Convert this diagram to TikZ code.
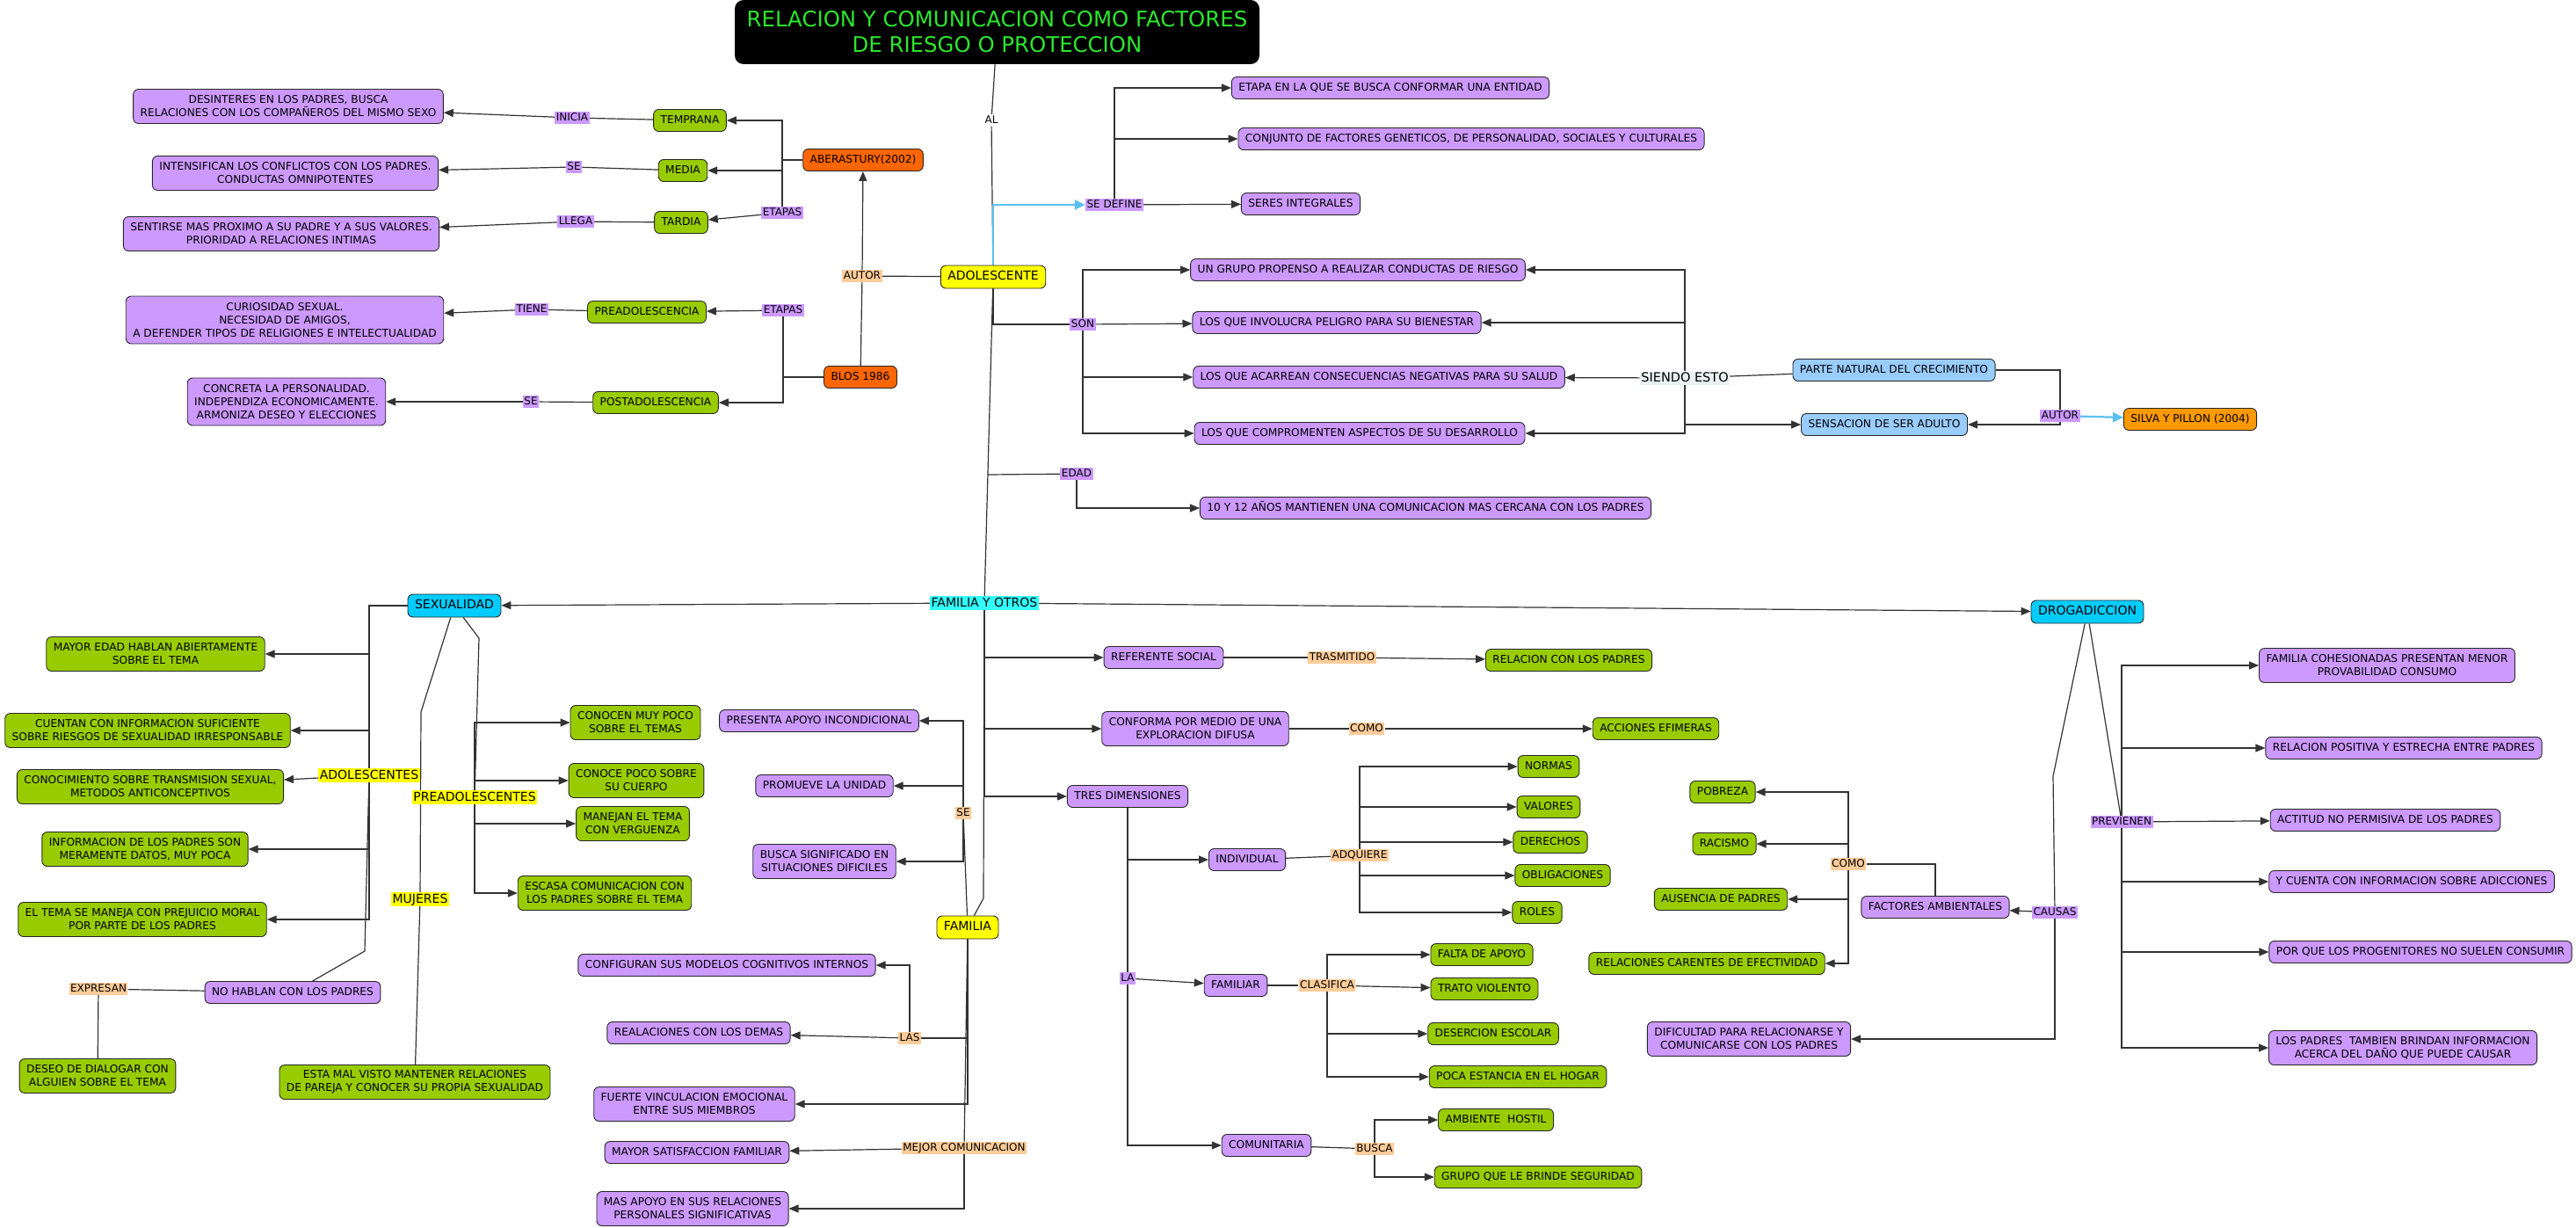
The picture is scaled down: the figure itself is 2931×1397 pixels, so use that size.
\documentclass[tikz,border=0pt]{standalone}
\usepackage{fontspec}
\setmainfont{DejaVu Sans}
\usepackage{tikz}
\usetikzlibrary{arrows.meta}
\usetikzlibrary{backgrounds}
\definecolor{clila}{HTML}{CC99FF}
\definecolor{cverde}{HTML}{99CC00}
\definecolor{camarillo}{HTML}{FFFF00}
\definecolor{ccian}{HTML}{00CCFF}
\definecolor{ccianclaro}{HTML}{33FFFF}
\definecolor{cnaranja}{HTML}{FF6600}
\definecolor{cnaranjaclaro}{HTML}{FF9900}
\definecolor{cceleste}{HTML}{99CCFF}
\definecolor{cdurazno}{HTML}{FFCC99}
\definecolor{csiendo}{HTML}{EAF1F1}
\definecolor{cflecha}{HTML}{5BC0F0}
\definecolor{cverdetitulo}{RGB}{45,230,45}
\tikzset{
    >={Triangle[length=11pt,width=9pt]},
    caja/.style={draw=black!85, line width=0.9pt, rounded corners=6pt, inner xsep=8pt,
        inner ysep=2pt, align=center, font=\fontsize{12.2}{15}\selectfont},
    una/.style={text height=9pt, text depth=2.5pt, minimum height=25pt},
    dos/.style={minimum height=39pt},
    tres/.style={minimum height=54pt},
    lila/.style={caja, fill=clila},
    verde/.style={caja, fill=cverde},
    naranja/.style={caja, una, fill=cnaranja},
    celeste/.style={caja, una, fill=cceleste},
    principal/.style={caja, una, font=\fontsize{14}{16}\selectfont, text height=10.5pt,
        text depth=3pt, minimum height=26pt},
    titulo/.style={fill=black, rounded corners=10pt, minimum width=597pt, minimum height=73pt,
        text=cverdetitulo, align=center, font=\fontsize{24.4}{29}\selectfont},
    enlace/.style={fill=clila, inner xsep=1.5pt, inner ysep=1.5pt, text height=9pt,
        text depth=1.5pt, font=\fontsize{12}{14}\selectfont},
    durazno/.style={enlace, fill=cdurazno},
    enlacegrande/.style={enlace, fill=camarillo, font=\fontsize{14}{16}\selectfont,
        text height=10.5pt, text depth=2pt},
    conector/.style={draw=black!80, line width=1.2pt},
    azul/.style={draw=cflecha, line width=2.2pt, -{Triangle[length=12pt,width=11pt]}},
}
\begin{document}
\begin{tikzpicture}[x=1pt, y=-1pt]
\useasboundingbox (0,0) rectangle (2931,1397);
% titulo y adolescente
\node[titulo] (titulo) at (1134.5,36.5) {RELACION Y COMUNICACION COMO FACTORES\\DE RIESGO O PROTECCION};
\node[enlace, fill=white] (al) at (1128,137) {AL};
\node[principal, fill=camarillo] (adolescente) at (1130,315) {ADOLESCENTE};
% etapas segun autores
\node[naranja] (aberastury) at (982,182) {ABERASTURY(2002)};
\node[naranja] (blos) at (979,429) {BLOS 1986};
\node[durazno] (autorA) at (981,314) {AUTOR};
\node[enlace] (etapasA) at (890,242) {ETAPAS};
\node[enlace] (etapasB) at (891,353) {ETAPAS};
\node[verde,una] (temprana) at (785,137) {TEMPRANA};
\node[verde,una] (media) at (777,194) {MEDIA};
\node[verde,una] (tardia) at (775,253) {TARDIA};
\node[verde,una] (preadolescencia) at (736,355) {PREADOLESCENCIA};
\node[verde,una] (postadolescencia) at (746,458) {POSTADOLESCENCIA};
\node[enlace] (inicia) at (651,134) {INICIA};
\node[enlace] (seA) at (653,190) {SE};
\node[enlace] (llega) at (655,252) {LLEGA};
\node[enlace] (tiene) at (605,352) {TIENE};
\node[enlace] (seB) at (604,457) {SE};
\node[lila,dos] (desinteres) at (328,121) {DESINTERES EN LOS PADRES, BUSCA\\RELACIONES CON LOS COMPAÑEROS DEL MISMO SEXO};
\node[lila,dos] (intensifican) at (336,197) {INTENSIFICAN LOS CONFLICTOS CON LOS PADRES.\\CONDUCTAS OMNIPOTENTES};
\node[lila,dos] (sentirse) at (320,266) {SENTIRSE MAS PROXIMO A SU PADRE Y A SUS VALORES.\\PRIORIDAD A RELACIONES INTIMAS};
\node[lila,tres] (curiosidad) at (324,364) {CURIOSIDAD SEXUAL.\\NECESIDAD DE AMIGOS,\\A DEFENDER TIPOS DE RELIGIONES E INTELECTUALIDAD};
\node[lila,tres] (concreta) at (326,457) {CONCRETA LA PERSONALIDAD.\\INDEPENDIZA ECONOMICAMENTE.\\ARMONIZA DESEO Y ELECCIONES};
% definicion
\node[enlace] (sedefine) at (1268,233) {SE DEFINE};
\node[lila,una] (etapa) at (1582,100) {ETAPA EN LA QUE SE BUSCA CONFORMAR UNA ENTIDAD};
\node[lila,una] (conjunto) at (1674,158) {CONJUNTO DE FACTORES GENETICOS, DE PERSONALIDAD, SOCIALES Y CULTURALES};
\node[lila,una] (seres) at (1480,232) {SERES INTEGRALES};
\node[enlace] (son) at (1232,369) {SON};
\node[lila,una] (grupo) at (1545,307) {UN GRUPO PROPENSO A REALIZAR CONDUCTAS DE RIESGO};
\node[lila,una] (involucra) at (1521,367) {LOS QUE INVOLUCRA PELIGRO PARA SU BIENESTAR};
\node[lila,una] (acarrean) at (1569,429) {LOS QUE ACARREAN CONSECUENCIAS NEGATIVAS PARA SU SALUD};
\node[lila,una] (comprometen) at (1547,493) {LOS QUE COMPROMENTEN ASPECTOS DE SU DESARROLLO};
\node[enlace] (edad) at (1225,539) {EDAD};
\node[lila,una] (edad10) at (1622,578) {10 Y 12 AÑOS MANTIENEN UNA COMUNICACION MAS CERCANA CON LOS PADRES};
\node[enlace, fill=csiendo, font=\fontsize{14.5}{17}\selectfont, text height=10.5pt] (siendo) at (1917,430) {SIENDO ESTO};
\node[celeste] (parte) at (2155,421) {PARTE NATURAL DEL CRECIMIENTO};
\node[celeste] (sensacion) at (2144,483) {SENSACION DE SER ADULTO};
\node[enlace] (autorB) at (2344,473) {AUTOR};
\node[caja, una, fill=cnaranjaclaro] (silva) at (2492,477) {SILVA Y PILLON (2004)};
% familia y otros
\node[enlacegrande, fill=ccianclaro] (familiayotros) at (1120,686) {FAMILIA Y OTROS};
\node[principal, fill=ccian] (sexualidad) at (517,689) {SEXUALIDAD};
\node[principal, fill=ccian] (drogadiccion) at (2375,696) {DROGADICCION};
% sexualidad
\node[verde,dos] (mayor) at (177,744) {MAYOR EDAD HABLAN ABIERTAMENTE\\SOBRE EL TEMA};
\node[verde,dos] (cuentan) at (168,831) {CUENTAN CON INFORMACION SUFICIENTE\\SOBRE RIESGOS DE SEXUALIDAD IRRESPONSABLE};
\node[verde,dos] (conocimiento) at (171,895) {CONOCIMIENTO SOBRE TRANSMISION SEXUAL,\\METODOS ANTICONCEPTIVOS};
\node[verde,dos] (informacion) at (165,966) {INFORMACION DE LOS PADRES SON\\MERAMENTE DATOS, MUY POCA};
\node[verde,dos] (eltema) at (162,1046) {EL TEMA SE MANEJA CON PREJUICIO MORAL\\POR PARTE DE LOS PADRES};
\node[enlacegrande] (adolescentes) at (420,882) {ADOLESCENTES};
\node[enlacegrande] (preadolescentes) at (540,907) {PREADOLESCENTES};
\node[enlacegrande] (mujeres) at (478,1023) {MUJERES};
\node[lila,una] (nohablan) at (333,1129) {NO HABLAN CON LOS PADRES};
\node[durazno] (expresan) at (112,1125) {EXPRESAN};
\node[verde,dos] (deseo) at (111,1224) {DESEO DE DIALOGAR CON\\ALGUIEN SOBRE EL TEMA};
\node[verde,dos] (estamal) at (472,1231) {ESTA MAL VISTO MANTENER RELACIONES\\DE PAREJA Y CONOCER SU PROPIA SEXUALIDAD};
\node[verde,dos] (conocen) at (723,822) {CONOCEN MUY POCO\\SOBRE EL TEMAS};
\node[verde,dos] (conocepoco) at (724,888) {CONOCE POCO SOBRE\\SU CUERPO};
\node[verde,dos] (manejan) at (720,937) {MANEJAN EL TEMA\\CON VERGUENZA};
\node[verde,dos] (escasa) at (688,1016) {ESCASA COMUNICACION CON\\LOS PADRES SOBRE EL TEMA};
\coordinate (quiebrepre) at (545,726);
\coordinate (quiebremuj) at (479,810);
\coordinate (quiebrenohablan) at (415,1082);
% familia
\node[principal, fill=camarillo] (familia) at (1101,1055) {FAMILIA};
\node[durazno] (seC) at (1096,925) {SE};
\node[lila,una] (presenta) at (932,820) {PRESENTA APOYO INCONDICIONAL};
\node[lila,una] (promueve) at (938,894) {PROMUEVE LA UNIDAD};
\node[lila,dos] (buscasig) at (938,980) {BUSCA SIGNIFICADO EN\\SITUACIONES DIFICILES};
\node[lila,una] (configuran) at (827,1098) {CONFIGURAN SUS MODELOS COGNITIVOS INTERNOS};
\node[lila,una] (realaciones) at (795,1175) {REALACIONES CON LOS DEMAS};
\node[durazno] (las) at (1035,1181) {LAS};
\node[lila,dos] (fuerte) at (790,1256) {FUERTE VINCULACION EMOCIONAL\\ENTRE SUS MIEMBROS};
\node[lila,una] (mayorsat) at (793,1311) {MAYOR SATISFACCION FAMILIAR};
\node[durazno] (mejorcom) at (1097,1306) {MEJOR COMUNICACION};
\node[lila,dos] (masapoyo) at (788,1375) {MAS APOYO EN SUS RELACIONES\\PERSONALES SIGNIFICATIVAS};
\coordinate (troncoedad) at (1124,540);
\coordinate (quiebrefam) at (1119,1022);
% otros
\node[lila,una] (referente) at (1324,748) {REFERENTE SOCIAL};
\node[durazno] (trasmitido) at (1527,748) {TRASMITIDO};
\node[verde,una] (relacionpadres) at (1785,751) {RELACION CON LOS PADRES};
\node[lila,dos] (conforma) at (1360,829) {CONFORMA POR MEDIO DE UNA\\EXPLORACION DIFUSA};
\node[durazno] (comoA) at (1555,829) {COMO};
\node[verde,una] (acciones) at (1884,829) {ACCIONES EFIMERAS};
\node[lila,una] (tres) at (1283,906) {TRES DIMENSIONES};
\node[enlace] (la) at (1283,1113) {LA};
\node[lila,una] (individual) at (1419,978) {INDIVIDUAL};
\node[durazno] (adquiere) at (1547,973) {ADQUIERE};
\node[verde,una] (normas) at (1762,872) {NORMAS};
\node[verde,una] (valores) at (1762,918) {VALORES};
\node[verde,una] (derechos) at (1764,958) {DERECHOS};
\node[verde,una] (obligaciones) at (1778,996) {OBLIGACIONES};
\node[verde,una] (roles) at (1749,1038) {ROLES};
\node[lila,una] (familiar) at (1406,1121) {FAMILIAR};
\node[durazno] (clasifica) at (1510,1121) {CLASIFICA};
\node[verde,una] (falta) at (1686,1086) {FALTA DE APOYO};
\node[verde,una] (trato) at (1689,1125) {TRATO VIOLENTO};
\node[verde,una] (desercion) at (1699,1176) {DESERCION ESCOLAR};
\node[verde,una] (poca) at (1727,1225) {POCA ESTANCIA EN EL HOGAR};
\node[lila,una] (comunitaria) at (1441,1303) {COMUNITARIA};
\node[durazno] (busca) at (1564,1307) {BUSCA};
\node[verde,una] (ambiente) at (1702,1274) {AMBIENTE~ HOSTIL};
\node[verde,una] (gruposeg) at (1750,1339) {GRUPO QUE LE BRINDE SEGURIDAD};
% drogadiccion
\node[verde,una] (pobreza) at (1960,901) {POBREZA};
\node[verde,una] (racismo) at (1962,960) {RACISMO};
\node[verde,una] (ausencia) at (1958,1023) {AUSENCIA DE PADRES};
\node[verde,una] (carentes) at (1942,1096) {RELACIONES CARENTES DE EFECTIVIDAD};
\node[durazno] (comoB) at (2103,983) {COMO};
\node[lila,una] (factores) at (2202,1032) {FACTORES AMBIENTALES};
\node[enlace] (causas) at (2338,1038) {CAUSAS};
\node[lila,dos] (dificultad) at (1990,1182) {DIFICULTAD PARA RELACIONARSE Y\\COMUNICARSE CON LOS PADRES};
\node[enlace] (previenen) at (2414,935) {PREVIENEN};
\node[lila,dos] (cohesionadas) at (2716,757) {FAMILIA COHESIONADAS PRESENTAN MENOR\\PROVABILIDAD CONSUMO};
\node[lila,una] (positiva) at (2735,851) {RELACION POSITIVA Y ESTRECHA ENTRE PADRES};
\node[lila,una] (actitud) at (2714,933) {ACTITUD NO PERMISIVA DE LOS PADRES};
\node[lila,una] (ycuenta) at (2744,1003) {Y CUENTA CON INFORMACION SOBRE ADICCIONES};
\node[lila,una] (porque) at (2754,1083) {POR QUE LOS PROGENITORES NO SUELEN CONSUMIR};
\node[lila,dos] (tambien) at (2734,1192) {LOS PADRES~ TAMBIEN BRINDAN INFORMACION\\ACERCA DEL DAÑO QUE PUEDE CAUSAR};
\coordinate (quiebrecausas) at (2336,883);

\begin{scope}[on background layer]
% parte superior
\draw[conector] (titulo) -- (al);
\draw[conector] (al) -- (adolescente);
\draw[azul] (adolescente.north) |- (sedefine);
\draw[conector,->] (sedefine) |- (etapa);
\draw[conector,->] (sedefine) |- (conjunto);
\draw[conector,->] (sedefine) -- (seres);
\draw[conector] (adolescente) |- (son);
\draw[conector,->] (son) |- (grupo);
\draw[conector,->] (son) -- (involucra);
\draw[conector,->] (son) |- (acarrean);
\draw[conector,->] (son) |- (comprometen);
\draw[conector] (adolescente) -- (familiayotros);
\draw[conector] (troncoedad) -- (edad);
\draw[conector,->] (edad) |- (edad10);
\draw[conector] (parte) -- (siendo);
\draw[conector,->] (siendo) -- (acarrean);
\draw[conector,->] (siendo) |- (grupo);
\draw[conector,->] (siendo) |- (involucra);
\draw[conector,->] (siendo) |- (comprometen);
\draw[conector,->] (siendo) |- (sensacion);
\draw[conector] (parte) -| (autorB);
\draw[conector,->] (autorB) |- (sensacion);
\draw[azul] (autorB) -- (silva);
% autores
\draw[conector] (adolescente) -- (autorA);
\draw[conector,->] (autorA) -- (aberastury);
\draw[conector] (autorA) -- (blos);
\draw[conector] (aberastury) -| (etapasA);
\draw[conector,->] (etapasA) |- (temprana);
\draw[conector,->] (etapasA) |- (media);
\draw[conector,->] (etapasA) -- (tardia);
\draw[conector] (temprana) -- (inicia);
\draw[conector,->] (inicia) -- (desinteres);
\draw[conector] (media) -- (seA);
\draw[conector,->] (seA) -- (intensifican);
\draw[conector] (tardia) -- (llega);
\draw[conector,->] (llega) -- (sentirse);
\draw[conector] (blos) -| (etapasB);
\draw[conector,->] (etapasB) -- (preadolescencia);
\draw[conector,->] (etapasB) |- (postadolescencia);
\draw[conector] (preadolescencia) -- (tiene);
\draw[conector,->] (tiene) -- (curiosidad);
\draw[conector] (postadolescencia) -- (seB);
\draw[conector,->] (seB) -- (concreta);
% familia y otros
\draw[conector,->] (familiayotros) -- (sexualidad);
\draw[conector,->] (familiayotros) -- (drogadiccion);
\draw[conector] (familiayotros) -- (quiebrefam) -- (familia);
\draw[conector,->] (familiayotros) |- (referente);
\draw[conector,->] (familiayotros) |- (conforma);
\draw[conector,->] (familiayotros) |- (tres);
\draw[conector] (referente) -- (trasmitido);
\draw[conector,->] (trasmitido) -- (relacionpadres);
\draw[conector] (conforma) -- (comoA);
\draw[conector,->] (comoA) -- (acciones);
\draw[conector] (tres) -- (la);
\draw[conector,->] (la) |- (individual);
\draw[conector,->] (la) -- (familiar);
\draw[conector,->] (la) |- (comunitaria);
\draw[conector] (individual) -- (adquiere);
\draw[conector,->] (adquiere) |- (normas);
\draw[conector,->] (adquiere) |- (valores);
\draw[conector,->] (adquiere) |- (derechos);
\draw[conector,->] (adquiere) |- (obligaciones);
\draw[conector,->] (adquiere) |- (roles);
\draw[conector] (familiar) -- (clasifica);
\draw[conector,->] (clasifica) |- (falta);
\draw[conector,->] (clasifica) -- (trato);
\draw[conector,->] (clasifica) |- (desercion);
\draw[conector,->] (clasifica) |- (poca);
\draw[conector] (comunitaria) -- (busca);
\draw[conector,->] (busca) |- (ambiente);
\draw[conector,->] (busca) |- (gruposeg);
% familia
\draw[conector] (familia) -- (seC);
\draw[conector,->] (seC) |- (presenta);
\draw[conector,->] (seC) |- (promueve);
\draw[conector,->] (seC) |- (buscasig);
\draw[conector] (familia) |- (las);
\draw[conector,->] (las) -- (realaciones);
\draw[conector,->] (las) |- (configuran);
\draw[conector,->] (familia) |- (fuerte);
\draw[conector] (familia) -- (mejorcom);
\draw[conector,->] (mejorcom) -- (mayorsat);
\draw[conector,->] (mejorcom) |- (masapoyo);
% sexualidad
\draw[conector] (sexualidad) -| (adolescentes);
\draw[conector,->] (adolescentes) |- (mayor);
\draw[conector,->] (adolescentes) |- (cuentan);
\draw[conector,->] (adolescentes) -- (conocimiento);
\draw[conector,->] (adolescentes) |- (informacion);
\draw[conector,->] (adolescentes) |- (eltema);
\draw[conector] (adolescentes) -- (quiebrenohablan) -- (nohablan);
\draw[conector] (nohablan) -- (expresan);
\draw[conector] (expresan) -- (deseo);
\draw[conector] (sexualidad) -- (quiebrepre) -- (preadolescentes);
\draw[conector,->] (preadolescentes) |- (conocen);
\draw[conector,->] (preadolescentes) |- (conocepoco);
\draw[conector,->] (preadolescentes) |- (manejan);
\draw[conector,->] (preadolescentes) |- (escasa);
\draw[conector] (sexualidad) -- (quiebremuj) -- (mujeres);
\draw[conector] (mujeres) -- (estamal);
% drogadiccion
\draw[conector] (drogadiccion) -- (quiebrecausas) -- (causas);
\draw[conector,->] (causas) -- (factores);
\draw[conector,->] (causas) |- (dificultad);
\draw[conector] (factores) |- (comoB);
\draw[conector,->] (comoB) |- (pobreza);
\draw[conector,->] (comoB) |- (racismo);
\draw[conector,->] (comoB) |- (ausencia);
\draw[conector,->] (comoB) |- (carentes);
\draw[conector] (drogadiccion) -- (previenen);
\draw[conector,->] (previenen) |- (cohesionadas);
\draw[conector,->] (previenen) |- (positiva);
\draw[conector,->] (previenen) -- (actitud);
\draw[conector,->] (previenen) |- (ycuenta);
\draw[conector,->] (previenen) |- (porque);
\draw[conector,->] (previenen) |- (tambien);
\end{scope}
\end{tikzpicture}
\end{document}
